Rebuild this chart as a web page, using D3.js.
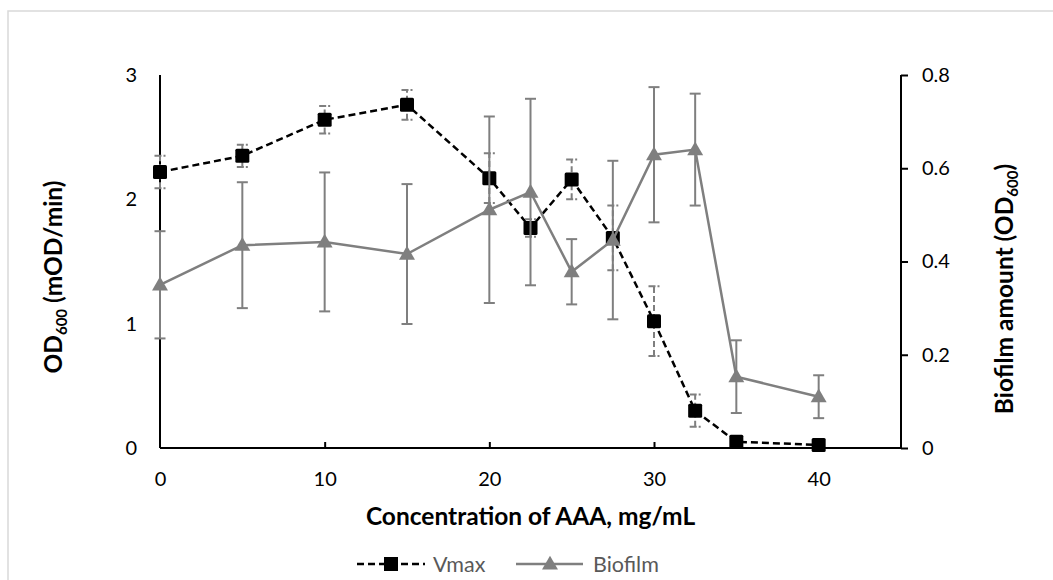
<!DOCTYPE html>
<html><head><meta charset="utf-8">
<script src="https://cdn.jsdelivr.net/npm/d3@7"></script>
<style>body{margin:0;background:#fff;} svg{font-family:Lato, "Open Sans", sans-serif;}</style>
</head><body>
<svg id="chart" width="1053" height="580"></svg>
<script>
// ---- data ----
const concentrations = [0, 5, 10, 15, 20, 22.5, 25, 27.5, 30, 32.5, 35, 40];
const vmax        = [2.22, 2.35, 2.64, 2.76, 2.17, 1.77, 2.16, 1.69, 1.02, 0.30, 0.05, 0.025];
const vmaxErr     = [0.13, 0.09, 0.11, 0.12, 0.20, 0.07, 0.16, 0.26, 0.28, 0.13, 0.02, 0.01];
const biofilm     = [0.35, 0.435, 0.442, 0.416, 0.511, 0.549, 0.378, 0.446, 0.629, 0.640, 0.153, 0.110];
const biofilmErr  = [0.115, 0.135, 0.149, 0.15, 0.20, 0.20, 0.07, 0.17, 0.145, 0.12, 0.078, 0.046];
const xTicks = [0, 10, 20, 30, 40];
const leftTicks = [0, 1, 2, 3];
const rightTicks = [0, 0.2, 0.4, 0.6, 0.8];
const seriesNames = ["Vmax", "Biofilm"];

const svg = d3.select("#chart");
const W = 1053, H = 580;
const m = {left: 160, right: 152, top: 75, bottom: 132};
const x = d3.scaleLinear().domain([0, 45]).range([m.left, W - m.right]);
const yL = d3.scaleLinear().domain([0, 3]).range([H - m.bottom, m.top]);
const yR = d3.scaleLinear().domain([0, 0.8]).range([H - m.bottom, m.top]);

// outer border
svg.append("rect").attr("x", 8).attr("y", 11).attr("width", W + 20).attr("height", H + 20)
  .attr("fill", "none").attr("stroke", "#d9d9d9").attr("stroke-width", 1.5);

const GRAY = "#7f7f7f";
const TICKFS = 20;
const TITLEFS = 24.5;

// axes
const gx = svg.append("g").attr("transform", `translate(0,${yL(0)})`)
  .call(d3.axisBottom(x).tickValues(xTicks).tickSize(-6).tickPadding(24).tickFormat(d3.format("d")));
const gl = svg.append("g").attr("transform", `translate(${m.left},0)`)
  .call(d3.axisLeft(yL).tickValues(leftTicks).tickSize(0).tickPadding(23).tickFormat(d3.format("d")));
const gr = svg.append("g").attr("transform", `translate(${W - m.right},0)`)
  .call(d3.axisRight(yR).tickValues(rightTicks).tickSize(7).tickPadding(14).tickFormat(d => d === 0 ? "0" : d3.format(".1f")(d)));
[gx, gl, gr].forEach(g => {
  g.select(".domain").attr("stroke", "#000").attr("stroke-width", 2);
  g.selectAll(".tick line").attr("stroke", "#000").attr("stroke-width", 2);
  g.selectAll(".tick text").attr("fill", "#000").style("font-size", TICKFS + "px").style("font-family", "Lato, sans-serif");
});
gx.select(".domain").attr("d", `M${x(0)},0H${x(45)}`);
gl.select(".domain").attr("d", `M0,${yL(3)}V${yL(0)}`);
gr.select(".domain").attr("d", `M0,${yR(0.8)}V${yR(0)}`);
gx.selectAll(".tick").filter(d => d === 0).select("line").remove();

// ---- Vmax series ----
const pts = concentrations.map((c, i) => ({c, v: vmax[i], ve: vmaxErr[i], b: biofilm[i], be: biofilmErr[i]}));
const lineV = d3.line().x(d => x(d.c)).y(d => yL(d.v));
svg.append("path").datum(pts).attr("d", lineV).attr("fill", "none")
  .attr("stroke", "#000").attr("stroke-width", 2.5).attr("stroke-dasharray", "7,4");
const cap = 5.5;
const ev = svg.append("g").attr("stroke", GRAY).attr("stroke-width", 2);
pts.forEach(d => {
  ev.append("line").attr("x1", x(d.c)).attr("x2", x(d.c)).attr("y1", yL(d.v - d.ve)).attr("y2", yL(d.v + d.ve))
    .attr("stroke-dasharray", "6,3");
  [d.v - d.ve, d.v + d.ve].forEach(val => ev.append("line").attr("x1", x(d.c) - cap).attr("x2", x(d.c) + cap)
    .attr("y1", yL(val)).attr("y2", yL(val)).attr("stroke-dasharray", "7,2,2,2"));
});
const sq = 14;
svg.append("g").selectAll("rect").data(pts).join("rect")
  .attr("x", d => x(d.c) - sq / 2).attr("y", d => yL(d.v) - sq / 2)
  .attr("width", sq).attr("height", sq).attr("rx", 1.5).attr("fill", "#000");

// ---- Biofilm series ----
const lineB = d3.line().x(d => x(d.c)).y(d => yR(d.b));
svg.append("path").datum(pts).attr("d", lineB).attr("fill", "none")
  .attr("stroke", GRAY).attr("stroke-width", 2.5);
const tri = d3.symbol().type(d3.symbolTriangle).size(110);
svg.append("g").selectAll("path").data(pts).join("path")
  .attr("d", tri).attr("transform", d => `translate(${x(d.c)},${yR(d.b) + 1})`).attr("fill", GRAY);
const eb = svg.append("g").attr("stroke", GRAY).attr("stroke-width", 2);
pts.forEach(d => {
  eb.append("line").attr("x1", x(d.c)).attr("x2", x(d.c)).attr("y1", yR(d.b - d.be)).attr("y2", yR(d.b + d.be));
  [d.b - d.be, d.b + d.be].forEach(val => eb.append("line").attr("x1", x(d.c) - cap).attr("x2", x(d.c) + cap)
    .attr("y1", yR(val)).attr("y2", yR(val)));
});

// ---- axis titles ----
svg.append("text").attr("x", (x(0) + x(45)) / 2).attr("y", 525).attr("text-anchor", "middle")
  .style("font-size", TITLEFS + "px").style("font-weight", "bold").text("Concentration of AAA, mg/mL");

const lt = svg.append("text").attr("transform", `translate(62,277) rotate(-90)`)
  .attr("text-anchor", "middle").style("font-size", TITLEFS + "px").style("font-weight", "bold");
lt.append("tspan").text("OD");
lt.append("tspan").text("600").style("font-size", "15px").attr("dy", 5);
lt.append("tspan").text(" (mOD/min)").attr("dy", -5);

const rt = svg.append("text").attr("transform", `translate(1013,289) rotate(-90)`)
  .attr("text-anchor", "middle").style("font-size", TITLEFS + "px").style("font-weight", "bold");
rt.append("tspan").text("Biofilm amount (OD");
rt.append("tspan").text("600").style("font-size", "15px").attr("dy", 5);
rt.append("tspan").text(")").attr("dy", -5);

// ---- legend ----
const ly = 564;
const lg = svg.append("g");
lg.append("line").attr("x1", 357).attr("x2", 425).attr("y1", ly).attr("y2", ly)
  .attr("stroke", "#000").attr("stroke-width", 2.5).attr("stroke-dasharray", "7,4");
lg.append("rect").attr("x", 391 - 7).attr("y", ly - 7).attr("width", 14).attr("height", 14).attr("fill", "#000");
lg.append("text").attr("x", 433).attr("y", ly + 7.5).style("font-size", "21.5px").attr("fill", "#595959").text(seriesNames[0]);
lg.append("line").attr("x1", 516).attr("x2", 583).attr("y1", ly).attr("y2", ly)
  .attr("stroke", GRAY).attr("stroke-width", 2.5);
lg.append("path").attr("d", tri).attr("transform", `translate(550,${ly + 1})`).attr("fill", GRAY);
lg.append("text").attr("x", 593).attr("y", ly + 7.5).style("font-size", "21.5px").attr("fill", "#595959").text(seriesNames[1]);
</script>
</body></html>
